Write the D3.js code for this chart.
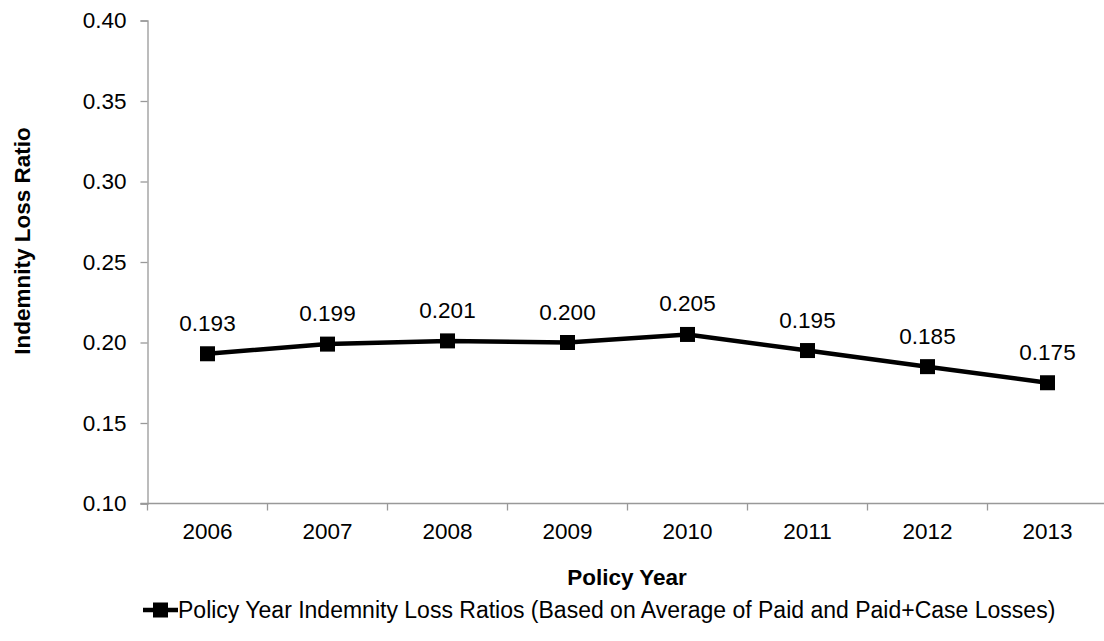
<!DOCTYPE html>
<html>
<head>
<meta charset="utf-8">
<script src="https://cdn.jsdelivr.net/npm/d3@7"></script>
<style>
  html, body { margin: 0; padding: 0; background: #fff; }
  svg { display: block; font-family: "Liberation Sans", Arial, sans-serif; }
</style>
</head>
<body>
<svg id="chart" width="1104" height="641"></svg>
<script>
// Policy year indemnity loss ratios
const years = ["2006", "2007", "2008", "2009", "2010", "2011", "2012", "2013"];
const lossRatios = [0.193, 0.199, 0.201, 0.200, 0.205, 0.195, 0.185, 0.175];
const yTicks = [0.10, 0.15, 0.20, 0.25, 0.30, 0.35, 0.40];
const seriesName = "Policy Year Indemnity Loss Ratios (Based on Average of Paid and Paid+Case Losses)";

const svg = d3.select("#chart");
const plotLeft = 147.5, plotRight = 1107.5, plotTop = 20.5, plotBottom = 503.5;

const x = d3.scaleBand().domain(years).range([plotLeft, plotRight]);
const y = d3.scaleLinear().domain([0.10, 0.40]).range([plotBottom, plotTop]);

const axisColor = "#999";
const fontSize = 22.5;

// Y axis
const yAxis = svg.append("g")
  .attr("transform", `translate(${plotLeft},0)`)
  .call(d3.axisLeft(y).tickValues(yTicks).tickFormat(d3.format(".2f")).tickSize(7).tickPadding(14));
yAxis.select(".domain").attr("stroke", axisColor).attr("stroke-width", 1.3);
yAxis.selectAll(".tick line").attr("stroke", axisColor).attr("stroke-width", 1.3);
yAxis.selectAll(".tick text").attr("font-size", fontSize).attr("fill", "#000")
  .attr("font-family", "Liberation Sans, Arial, sans-serif");

// X axis: ticks sit on category boundaries
const xAxisG = svg.append("g").attr("transform", `translate(0,${plotBottom})`);
xAxisG.append("line")
  .attr("x1", plotLeft - 7).attr("x2", plotRight)
  .attr("stroke", axisColor).attr("stroke-width", 1.3);
const boundaries = years.map(d => x(d)).concat([x.range()[1]]);
xAxisG.selectAll("line.tick").data(boundaries).join("line")
  .attr("class", "tick")
  .attr("x1", d => d).attr("x2", d => d)
  .attr("y1", 0).attr("y2", 7)
  .attr("stroke", axisColor).attr("stroke-width", 1.3);
xAxisG.selectAll("text").data(years).join("text")
  .attr("x", d => x(d) + x.bandwidth() / 2)
  .attr("y", 35)
  .attr("text-anchor", "middle")
  .attr("font-size", fontSize)
  .text(d => d);

// Axis titles
svg.append("text")
  .attr("x", 627).attr("y", 585)
  .attr("text-anchor", "middle")
  .attr("font-size", fontSize).attr("font-weight", "bold")
  .text("Policy Year");

svg.append("text")
  .attr("transform", "translate(30,241) rotate(-90)")
  .attr("text-anchor", "middle")
  .attr("font-size", fontSize).attr("font-weight", "bold")
  .text("Indemnity Loss Ratio");

// Series line
const cx = d => x(d) + x.bandwidth() / 2;
const line = d3.line().x((d, i) => cx(years[i])).y(d => y(d));
svg.append("path")
  .datum(lossRatios)
  .attr("d", line)
  .attr("fill", "none")
  .attr("stroke", "#000")
  .attr("stroke-width", 4.5);

const m = 15;
svg.selectAll("rect.marker").data(lossRatios).join("rect")
  .attr("class", "marker")
  .attr("x", (d, i) => cx(years[i]) - m / 2)
  .attr("y", d => y(d) - m / 2)
  .attr("width", m).attr("height", m)
  .attr("fill", "#000");

// Data labels
svg.selectAll("text.label").data(lossRatios).join("text")
  .attr("class", "label")
  .attr("x", (d, i) => cx(years[i]))
  .attr("y", d => y(d) - 23)
  .attr("text-anchor", "middle")
  .attr("font-size", fontSize)
  .text(d => d3.format(".3f")(d));

// Legend
const lg = svg.append("g").attr("transform", "translate(143,610)");
lg.append("line").attr("x1", 0).attr("x2", 35).attr("y1", 0).attr("y2", 0)
  .attr("stroke", "#000").attr("stroke-width", 4.5);
lg.append("rect").attr("x", 17.5 - m / 2).attr("y", -m / 2).attr("width", m).attr("height", m).attr("fill", "#000");
lg.append("text").attr("x", 35).attr("y", 8).attr("font-size", 23).text(seriesName);
</script>
</body>
</html>
